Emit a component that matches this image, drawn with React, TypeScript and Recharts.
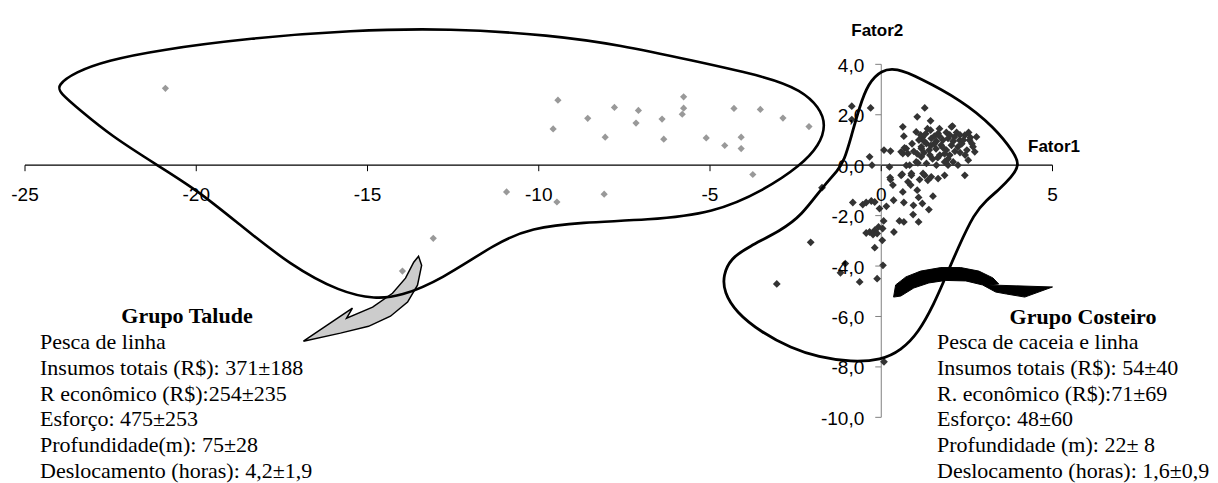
import React from 'react';
import { ScatterChart, Scatter, XAxis, YAxis, ReferenceLine, Customized } from 'recharts';

// ---------- data ----------
const xTicks = [-25, -20, -15, -10, -5, 0, 5];
const yTicks = [-10, -8, -6, -4, -2, 0, 2, 4];

// Grupo Talude scores (Fator1, Fator2)
const taludeScores: [number, number][] = [
  [-20.9, 3.05], [-9.44, 2.58], [-9.58, 1.44], [-8.57, 1.86], [-8.06, 1.11], [-7.79, 2.29],
  [-7.09, 2.17], [-7.16, 1.67], [-6.4, 1.83], [-6.35, 1.03], [-5.77, 2.71], [-5.77, 2.26],
  [-5.81, 2.02], [-5.11, 1.08], [-4.3, 2.25], [-4.57, 0.78], [-4.09, 1.11], [-4.09, 0.66],
  [-3.53, 2.21], [-2.87, 1.87], [-2.11, 1.53], [-3.75, -0.37], [-10.94, -1.06], [-9.47, -1.46],
  [-8.09, -1.15], [-13.08, -2.9], [-13.98, -4.2],
];

// Grupo Costeiro scores (Fator1, Fator2)
const costeiroScores: [number, number][] = [
  [-0.86, 2.34], [-0.31, 2.27], [-0.86, 1.81], [-0.34, 0.33], [-0.27, 0.0], [0.08, 0.6], [0.27, 0.56],
  [0.24, -0.07], [1.27, 2.27], [1.05, 1.92], [1.44, 1.76], [2.08, 1.55], [0.63, 1.52], [0.66, 1.15],
  [1.02, 1.32], [1.44, 1.39], [1.66, 1.26], [2.05, 1.52], [0.68, 0.69], [0.63, 0.46], [0.78, 0.46],
  [1.17, 0.73], [1.32, 0.86], [1.46, 1.06], [1.61, 0.95], [1.75, 0.79], [1.95, 1.06], [2.14, 1.12],
  [2.29, 0.99], [2.44, 1.19], [2.58, 0.99], [2.68, 0.73], [2.78, 1.12], [2.05, 0.79], [2.24, 0.73],
  [1.9, 0.6], [1.71, 0.4], [1.42, 0.4], [1.17, 0.33], [1.02, 0.13], [1.32, 0.07], [1.61, 0.0],
  [0.83, 0.0], [1.95, 0.0], [2.24, 0.0], [2.54, 0.2], [2.73, 0.53], [0.73, 0.66], [0.58, 0.53],
  [1.17, 0.66], [1.85, 0.13], [2.1, 0.13], [0.73, -0.01], [1.07, 0.09], [2.44, -0.4],
  [1.2, 1.1], [1.3, 1.25], [1.55, 1.15], [1.8, 1.0], [1.9, 1.3], [2.2, 1.3], [2.35, 0.85],
  [2.5, 0.6], [2.6, 1.1], [2.0, 0.4], [1.6, 0.65], [1.4, 0.6], [1.25, 0.5], [1.85, 0.45],
  [2.15, 0.55], [1.1, 1.0], [0.95, 0.55], [1.5, 0.25], [1.35, 1.45], [1.7, 1.45], [2.3, 1.2],
  [2.45, 0.4], [1.55, 0.85], [1.05, 0.45], [2.65, 0.85], [0.9, 0.85], [1.95, 0.25],
  [1.25, 0.95], [1.7, 1.15], [2.0, 1.2], [2.4, 1.0], [1.45, 0.78], [1.8, 0.7], [2.1, 0.95],
  [2.55, 1.3], [1.15, 1.2], [1.65, 0.3], [2.3, 0.5],
  [0.58, -0.4], [0.88, -0.4], [1.27, -0.4], [0.27, -0.57], [1.12, -0.57], [1.36, -0.6], [1.66, -0.53],
  [1.85, -0.4], [1.22, -0.33], [1.46, -0.46], [0.26, -0.49], [0.61, -0.36], [0.88, -0.33], [0.34, -0.79],
  [0.78, -0.66], [0.86, -0.79], [1.05, -0.99], [0.63, -1.06], [1.09, -1.28], [1.51, -1.23], [0.36, -1.39],
  [0.66, -1.48], [0.15, -1.63], [-0.05, -1.72], [0.94, -1.59], [1.2, -1.52], [1.39, -1.76], [0.93, -1.96],
  [1.09, -2.25], [0.53, -2.21], [0.66, -2.25], [0.07, -2.21], [0.37, -2.65], [0.04, -2.51], [-0.08, -2.45],
  [-0.19, -2.58], [-0.34, -2.65], [-0.44, -2.69], [-0.24, -2.75], [-0.12, -2.71], [0.03, -2.98],
  [-0.19, -3.27], [0.05, -3.97], [-0.12, -4.5], [-0.63, -4.63], [-0.83, -1.48], [-0.54, -1.56],
  [-0.44, -1.48], [-0.29, -1.42], [-0.19, -1.46], [-1.73, -0.89], [-2.06, -3.06], [-1.05, -3.9],
  [-1.19, -4.27], [-3.05, -4.71], [0.08, -7.8],
];

// hand-drawn group outlines (in Fator1/Fator2 units)
const taludeOutline: [number, number][] = [
  [-24.06, 3.17], [-23.54, 3.69], [-22.6, 4.15], [-21.14, 4.56], [-18.42, 5.04], [-15.5, 5.35],
  [-12.57, 5.43], [-9.65, 5.16], [-7.6, 4.76], [-5.56, 4.16], [-3.3, 3.49], [-2.34, 2.97],
  [-1.81, 2.3], [-1.61, 1.59], [-1.81, 0.79], [-2.34, 0.0], [-3.42, -0.99], [-4.88, -1.9],
  [-6.81, -2.18], [-8.77, -2.26], [-10.23, -2.5], [-11.2, -3.05], [-12.87, -4.56], [-14.04, -5.2],
  [-14.77, -5.31], [-15.79, -5.04], [-17.25, -3.97], [-18.71, -2.38], [-19.97, -0.99], [-21.14, 0.0],
  [-22.51, 1.19], [-23.39, 2.18], [-23.98, 2.86],
];
const costeiroOutline: [number, number][] = [
  [0, 3.77], [0.44, 3.85], [1.08, 3.49], [2.34, 2.58], [3.3, 1.51], [3.89, 0.48], [4.04, 0],
  [3.8, -0.48], [3.42, -0.99], [3.07, -1.39], [2.72, -1.9], [2.25, -3.25], [1.84, -4.56],
  [1.55, -5.47], [1.08, -6.66], [0.58, -7.34], [0, -7.73], [-0.88, -7.81], [-1.84, -7.61],
  [-2.63, -7.26], [-3.51, -6.62], [-4.24, -5.83], [-4.59, -5.04], [-4.62, -4.36], [-4.39, -3.69],
  [-3.89, -3.25], [-2.92, -2.58], [-2.34, -2.02], [-1.67, -0.79], [-1.26, -0.2], [-1.08, 0.2],
  [-0.88, 1.11], [-0.64, 2.3], [-0.38, 3.25],
];
// curved block arrows
const taludeArrow: [number, number][] = [
  [-16.87, -6.98], [-15.44, -5.67], [-15.61, -6.07], [-14.85, -5.63], [-14.27, -5.08], [-13.89, -4.48],
  [-13.65, -3.85], [-13.51, -3.61], [-13.42, -3.97], [-13.54, -4.76], [-13.83, -5.43], [-14.33, -5.99],
  [-14.97, -6.39], [-15.79, -6.66],
];
const costeiroArrow: [number, number][] = [
  [0.36, -5.23], [0.42, -4.75], [0.72, -4.43], [1.15, -4.2], [1.74, -4.06], [2.32, -4.06], [2.85, -4.2],
  [3.26, -4.47], [3.43, -4.71], [3.14, -4.75], [5.0, -4.83], [4.19, -5.23], [3.66, -5.11], [3.34, -5.03],
  [2.96, -4.75], [2.47, -4.59], [1.88, -4.57], [1.39, -4.67], [0.95, -4.87], [0.57, -5.19],
];

const taludeTitle = 'Grupo Talude';
const taludeLines = [
  'Pesca de linha',
  'Insumos totais (R$): 371±188',
  'R econômico (R$):254±235',
  'Esforço: 475±253',
  'Profundidade(m): 75±28',
  'Deslocamento (horas): 4,2±1,9',
];
const costeiroTitle = 'Grupo Costeiro';
const costeiroLines = [
  'Pesca de caceia e linha',
  'Insumos totais (R$): 54±40',
  'R. econômico (R$):71±69',
  'Esforço: 48±60',
  'Profundidade (m): 22± 8',
  'Deslocamento (horas): 1,6±0,9',
];
const xAxisTitle = 'Fator1';
const yAxisTitle = 'Fator2';

// ---------- layout ----------
const W = 1210;
const H = 475;
const AXIS_SIZE = 1;
const PLOT = { top: 5.9, right: 28.5, bottom: 65.66, left: 17 };
const M = { top: PLOT.top, right: PLOT.right, bottom: PLOT.bottom - AXIS_SIZE, left: PLOT.left - AXIS_SIZE };
const X_DOMAIN: [number, number] = [-25, 9];
const Y_DOMAIN: [number, number] = [-10, 6];
const plotW = W - PLOT.left - PLOT.right;
const plotH = H - PLOT.top - PLOT.bottom;
const x0px = PLOT.left + (plotW * (0 - X_DOMAIN[0])) / (X_DOMAIN[1] - X_DOMAIN[0]);
const y0px = PLOT.top + (plotH * (Y_DOMAIN[1] - 0)) / (Y_DOMAIN[1] - Y_DOMAIN[0]);

const toPts = (arr: [number, number][]) => arr.map(([x, y]) => ({ x, y }));

const SANS = "'Liberation Sans', Arial, sans-serif";
const SERIF = "'Liberation Serif', 'Times New Roman', serif";

const diamond = (color: string, r: number) => (props: any) => {
  const { cx, cy } = props;
  if (cx == null || cy == null) return <g />;
  return <path d={`M${cx},${cy - r}L${cx + r},${cy}L${cx},${cy + r}L${cx - r},${cy}Z`} fill={color} />;
};
const noShape = () => <g />;

const XTick = (props: any) => {
  const { x, payload } = props;
  return (
    <g>
      <line x1={x} x2={x} y1={y0px} y2={y0px + 6} stroke="#000" strokeWidth={1} />
      <text x={x} y={y0px + 35.5} textAnchor="middle" fontFamily={SANS} fontSize={19} fill="#000">
        {String(payload.value)}
      </text>
    </g>
  );
};
const YTick = (props: any) => {
  const { y, payload } = props;
  return (
    <g>
      <line x1={x0px - 6} x2={x0px} y1={y} y2={y} stroke="#808080" strokeWidth={1} />
      <text x={x0px - 17} y={y + 7.5} textAnchor="end" fontFamily={SANS} fontSize={19} fill="#000">
        {Number(payload.value).toFixed(1).replace('.', ',')}
      </text>
    </g>
  );
};

const LINE_GAP = 25.8;
const TextLayer = () => (
  <g>
    <text x={x0px - 4} y={28} textAnchor="middle" fontFamily={SANS} fontSize={17} fontWeight="bold" fill="#000">
      {yAxisTitle}
    </text>
    <text x={1020} y={144} fontFamily={SANS} fontSize={17} fontWeight="bold" fill="#000">
      {xAxisTitle}
    </text>
    <g fontFamily={SERIF} fontSize={22} fill="#000">
      <text x={179} y={315} textAnchor="middle" fontWeight="bold">{taludeTitle}</text>
      {taludeLines.map((t, i) => (
        <text key={'t' + i} x={32} y={341 + i * LINE_GAP}>{t}</text>
      ))}
      <text x={1075} y={316} textAnchor="middle" fontWeight="bold">{costeiroTitle}</text>
      {costeiroLines.map((t, i) => (
        <text key={'c' + i} x={929} y={341 + i * LINE_GAP}>{t}</text>
      ))}
    </g>
  </g>
);

export default function App() {
  return (
    <div style={{ width: W, height: H }}>
      <ScatterChart width={W} height={H} margin={M}>
        <XAxis
          type="number"
          dataKey="x"
          domain={X_DOMAIN}
          ticks={xTicks}
          interval={0}
          allowDataOverflow
          axisLine={false}
          tickLine={false}
          height={AXIS_SIZE}
          tick={(p: any) => <XTick {...p} />}
        />
        <YAxis
          type="number"
          dataKey="y"
          domain={Y_DOMAIN}
          ticks={yTicks}
          interval={0}
          allowDataOverflow
          axisLine={false}
          tickLine={false}
          width={AXIS_SIZE}
          tick={(p: any) => <YTick {...p} />}
        />
        <ReferenceLine segment={[{ x: -25, y: 0 }, { x: 5, y: 0 }]} stroke="#000" strokeWidth={1.2} />
        <ReferenceLine segment={[{ x: 0, y: -10 }, { x: 0, y: 4 }]} stroke="#808080" strokeWidth={1} />
        <Scatter
          data={toPts(taludeScores)}
          shape={diamond('#999999', 3.6)}
          isAnimationActive={false}
        />
        <Scatter
          data={toPts(costeiroScores)}
          shape={diamond('#333333', 3.9)}
          isAnimationActive={false}
        />
        <Scatter
          data={toPts(taludeArrow)}
          shape={noShape}
          line={{ stroke: '#000', strokeWidth: 1.5, fill: '#cccccc' }}
          lineJointType="linearClosed"
          isAnimationActive={false}
        />
        <Scatter
          data={toPts(costeiroArrow)}
          shape={noShape}
          line={{ stroke: '#000', strokeWidth: 1, fill: '#000' }}
          lineJointType="linearClosed"
          isAnimationActive={false}
        />
        <Scatter
          data={toPts(taludeOutline)}
          shape={noShape}
          line={{ stroke: '#000', strokeWidth: 2.6, fill: 'none' }}
          lineJointType="basisClosed"
          isAnimationActive={false}
        />
        <Scatter
          data={toPts(costeiroOutline)}
          shape={noShape}
          line={{ stroke: '#000', strokeWidth: 2.8, fill: 'none' }}
          lineJointType="basisClosed"
          isAnimationActive={false}
        />
        <Customized component={<TextLayer />} />
      </ScatterChart>
    </div>
  );
}
